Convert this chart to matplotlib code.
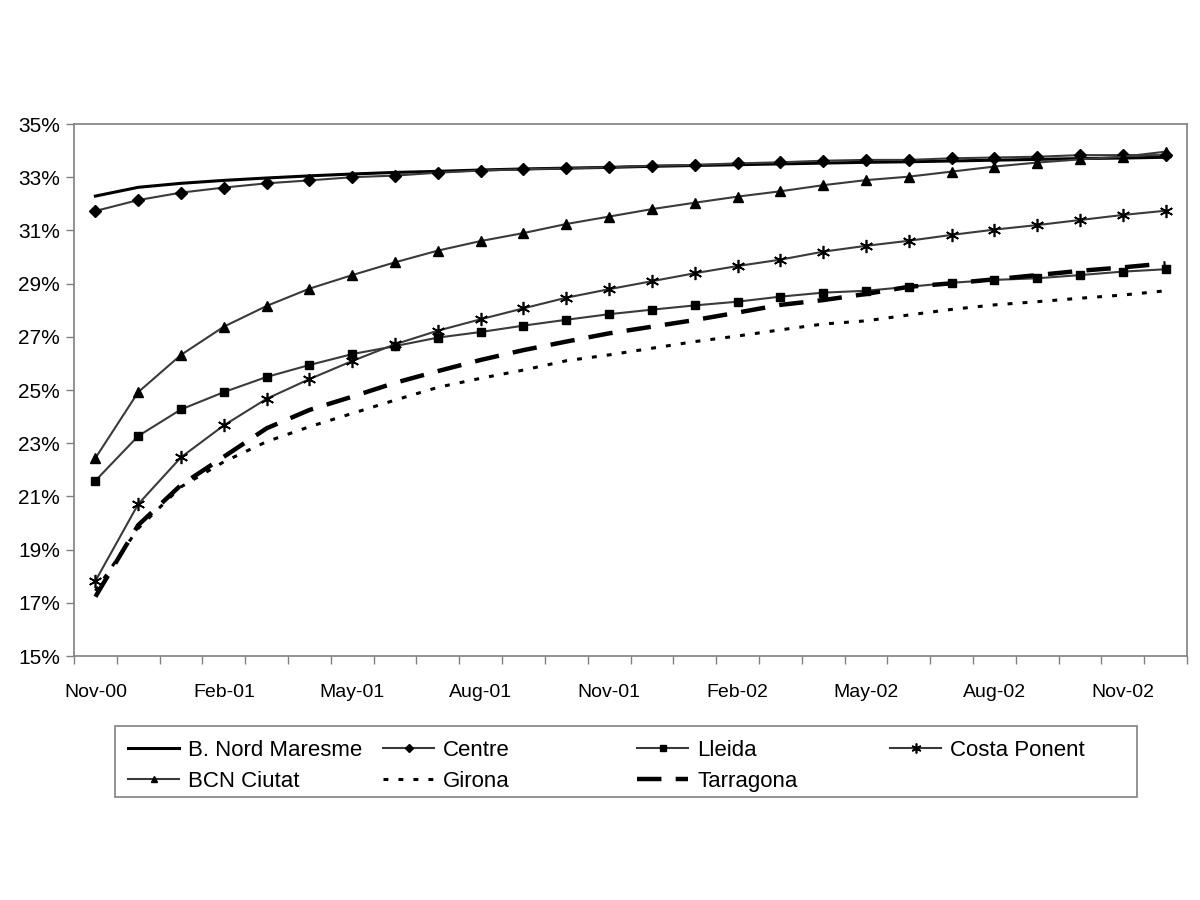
import matplotlib
matplotlib.use("Agg")
import matplotlib.pyplot as plt
from matplotlib.patches import Rectangle
import numpy as np

plt.rcParams['font.family'] = ['Liberation Sans', 'DejaVu Sans']

months = ["Nov-00", "Dec-00", "Jan-01", "Feb-01", "Mar-01", "Apr-01", "May-01", "Jun-01",
          "Jul-01", "Aug-01", "Sep-01", "Oct-01", "Nov-01", "Dec-01", "Jan-02", "Feb-02",
          "Mar-02", "Apr-02", "May-02", "Jun-02", "Jul-02", "Aug-02", "Sep-02", "Oct-02",
          "Nov-02", "Dec-02"]

b_nord = [32.29, 32.62, 32.77, 32.88, 32.97, 33.05, 33.12, 33.18, 33.22, 33.27, 33.31, 33.34,
          33.37, 33.41, 33.44, 33.47, 33.50, 33.53, 33.56, 33.58, 33.61, 33.64, 33.67, 33.70,
          33.72, 33.75]
centre = [31.73, 32.14, 32.42, 32.61, 32.77, 32.88, 33.00, 33.06, 33.17, 33.25, 33.30, 33.33,
          33.37, 33.43, 33.46, 33.52, 33.56, 33.62, 33.65, 33.65, 33.71, 33.74, 33.77, 33.83,
          33.83, 33.83]
lleida = [21.59, 23.27, 24.27, 24.92, 25.49, 25.94, 26.35, 26.65, 26.97, 27.18, 27.42, 27.64,
          27.85, 28.02, 28.18, 28.32, 28.51, 28.66, 28.73, 28.88, 29.03, 29.14, 29.20, 29.32,
          29.45, 29.54]
costa_ponent = [17.82, 20.71, 22.47, 23.67, 24.67, 25.41, 26.09, 26.72, 27.23, 27.66, 28.07,
                28.47, 28.79, 29.09, 29.39, 29.66, 29.90, 30.20, 30.42, 30.61, 30.83, 31.03,
                31.20, 31.39, 31.58, 31.74]
bcn_ciutat = [22.44, 24.92, 26.32, 27.38, 28.16, 28.81, 29.32, 29.80, 30.24, 30.60, 30.90,
              31.24, 31.52, 31.80, 32.04, 32.27, 32.47, 32.70, 32.89, 33.02, 33.21, 33.40,
              33.55, 33.67, 33.77, 33.96]
girona = [17.45, 19.80, 21.36, 22.30, 23.06, 23.62, 24.12, 24.62, 25.10, 25.44, 25.75, 26.10,
          26.32, 26.57, 26.82, 27.03, 27.26, 27.48, 27.60, 27.82, 28.03, 28.20, 28.32, 28.45,
          28.57, 28.73]
tarragona = [17.23, 19.92, 21.43, 22.49, 23.56, 24.25, 24.75, 25.27, 25.71, 26.13, 26.50,
             26.82, 27.13, 27.38, 27.63, 27.91, 28.20, 28.38, 28.61, 28.88, 29.01, 29.16,
             29.32, 29.48, 29.61, 29.76]

x = np.arange(len(months))

fig = plt.figure(figsize=(12, 9), dpi=100)
ax = fig.add_axes([74/1200, 1 - 656/900, (1187-74)/1200, (656-124)/900])

gray = '#3a3a3a'
l_bn, = ax.plot(x, b_nord, color='black', lw=2.2, label='B. Nord Maresme')
l_ce, = ax.plot(x, centre, color=gray, lw=1.5, marker='D', ms=5.8, mfc='black', mec='black',
                label='Centre')
l_ll, = ax.plot(x, lleida, color=gray, lw=1.5, marker='s', ms=5.8, mfc='black', mec='black',
                label='Lleida')
l_cp, = ax.plot(x, costa_ponent, color=gray, lw=1.5, marker=(6, 2, 0), ms=9.5, mfc='black',
                mec='black', mew=1.2, label='Costa Ponent')
l_bc, = ax.plot(x, bcn_ciutat, color=gray, lw=1.5, marker='^', ms=6.5, mfc='black', mec='black',
                label='BCN Ciutat')
l_gi, = ax.plot(x, girona, color='black', lw=2.2, dashes=(1.6, 3.3), label='Girona')
l_ta, = ax.plot(x, tarragona, color='black', lw=3.2, dashes=(5.5, 3.2), label='Tarragona')

ax.set_xlim(-0.5, len(months) - 0.5)
ax.set_ylim(15, 35)
ax.set_yticks(np.arange(15, 36, 2))
ax.set_yticklabels([f"{v}%" for v in range(15, 36, 2)])

ax.set_xticks(x[::3])
ax.set_xticklabels(months[::3])
ax.set_xticks(np.arange(-0.5, len(months), 1), minor=True)
ax.tick_params(axis='x', which='major', length=0, pad=20, labelsize=14)
ax.tick_params(axis='x', which='minor', length=6, color='#808080', width=1)
ax.tick_params(axis='y', which='major', length=6, color='#808080', width=1, pad=4, labelsize=15)

for sp in ax.spines.values():
    sp.set_color('#808080')
    sp.set_linewidth(1.2)

# legend box
fig.patches.append(Rectangle((115/1200, 1 - 797/900), (1137-115)/1200, (797-726)/900,
                             transform=fig.transFigure, fill=False, edgecolor='#808080',
                             lw=1.2))

columns = [([l_bn, l_bc], 117), ([l_ce, l_gi], 372), ([l_ll, l_ta], 626), ([l_cp], 879)]
for handles, xpix in columns:
    fig.legend(handles=handles, labels=[h.get_label() for h in handles],
               loc='upper left', bbox_to_anchor=(xpix/1200, 1 - 729/900),
               frameon=False, fontsize=16, handlelength=2.3, handletextpad=0.4,
               labelspacing=0.45, borderpad=0, markerscale=0.75)

fig.savefig('out.png', dpi=100, facecolor='white')
